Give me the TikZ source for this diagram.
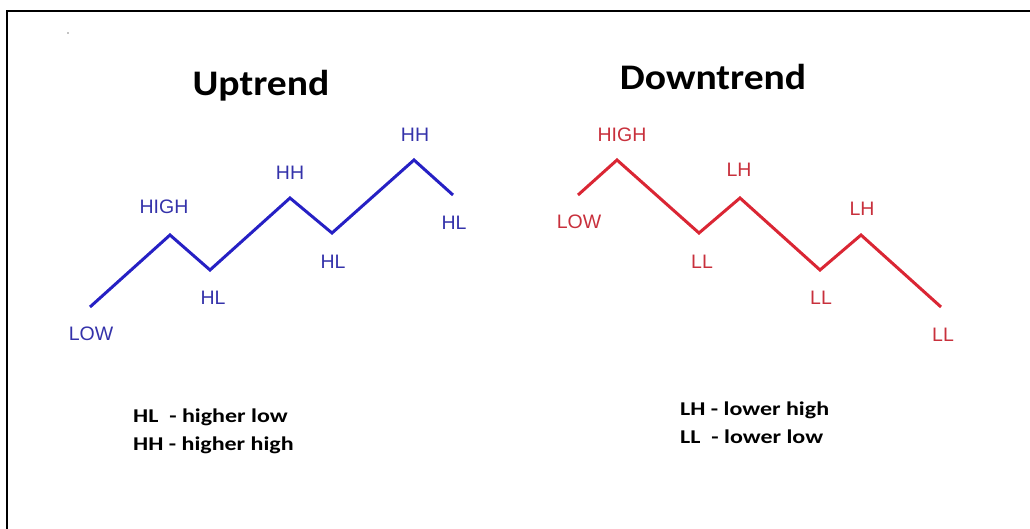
\documentclass[tikz,border=0pt]{standalone}
\usepackage{fontspec}
\setmainfont{Liberation Sans}
\newfontfamily\calibri[FakeStretch=1.1]{Carlito}
\newfontfamily\calibrikey[FakeStretch=1.23]{Carlito}
\usetikzlibrary{calc}

\definecolor{upblue}{RGB}{38,32,196}
\definecolor{uptext}{RGB}{52,50,170}
\definecolor{downred}{RGB}{218,38,52}
\definecolor{downtext}{RGB}{200,48,60}

\begin{document}
\begin{tikzpicture}[x=1pt, y=-1pt,
	trendline/.style={line width=3pt, line join=miter},
	pt/.style={inner sep=0pt, font=\fontsize{19.5}{20}\selectfont},
	title/.style={inner sep=0pt, anchor=base, font=\calibri\bfseries\fontsize{36}{38}\selectfont},
	key/.style={inner sep=0pt, anchor=base west, font=\calibrikey\bfseries\fontsize{19.5}{20}\selectfont}]

	\useasboundingbox (0,0) rectangle (1030,529);

	\coordinate (c0) at (6.5, 529);
	\coordinate (c1) at (6.5, 11);
	\coordinate (c2) at (1030, 11);
	\draw[line width=2pt] (c0) -- (c1) -- (c2);
	\fill (68, 33) circle (0.7);

	\coordinate (u0) at (90, 307);
	\coordinate (u1) at (170, 235);
	\coordinate (u2) at (210, 270);
	\coordinate (u3) at (290, 198);
	\coordinate (u4) at (332, 233);
	\coordinate (u5) at (414, 160);
	\coordinate (u6) at (453, 195);

	\coordinate (d0) at (578, 195);
	\coordinate (d1) at (617, 160);
	\coordinate (d2) at (699, 233);
	\coordinate (d3) at (740, 198);
	\coordinate (d4) at (820, 270);
	\coordinate (d5) at (861, 235);
	\coordinate (d6) at (941, 307);

	\node[title] (uptitle) at (261, 96) {Uptrend};
	\node[title] (downtitle) at (713, 90) {Downtrend};

	\draw[trendline, upblue] (u0) -- (u1) -- (u2) -- (u3) -- (u4) -- (u5) -- (u6);
	\draw[trendline, downred] (d0) -- (d1) -- (d2) -- (d3) -- (d4) -- (d5) -- (d6);

	\begin{scope}[every node/.style={pt, text=uptext}]
		\node (ulow) at (91, 334) {LOW};
		\node (uhigh) at (164, 207) {HIGH};
		\node (uhl1) at (213, 298) {HL};
		\node (uhh1) at (290, 173) {HH};
		\node (uhl2) at (333, 262) {HL};
		\node (uhh2) at (415, 135) {HH};
		\node (uhl3) at (454, 223) {HL};
	\end{scope}

	\begin{scope}[every node/.style={pt, text=downtext}]
		\node (dlow) at (579, 222) {LOW};
		\node (dhigh) at (622, 135) {HIGH};
		\node (dll1) at (702, 262) {LL};
		\node (dlh1) at (739, 170) {LH};
		\node (dll2) at (821, 298) {LL};
		\node (dlh2) at (862, 209) {LH};
		\node (dll3) at (943, 335) {LL};
	\end{scope}

	\node[key] (keyhl) at (133, 422) {HL\ \ - higher low};
	\node[key] (keyhh) at (133, 450) {HH - higher high};
	\node[key] (keylh) at (680, 415) {LH - lower high};
	\node[key] (keyll) at (680, 443) {LL\ \ - lower low};

\end{tikzpicture}
\end{document}
